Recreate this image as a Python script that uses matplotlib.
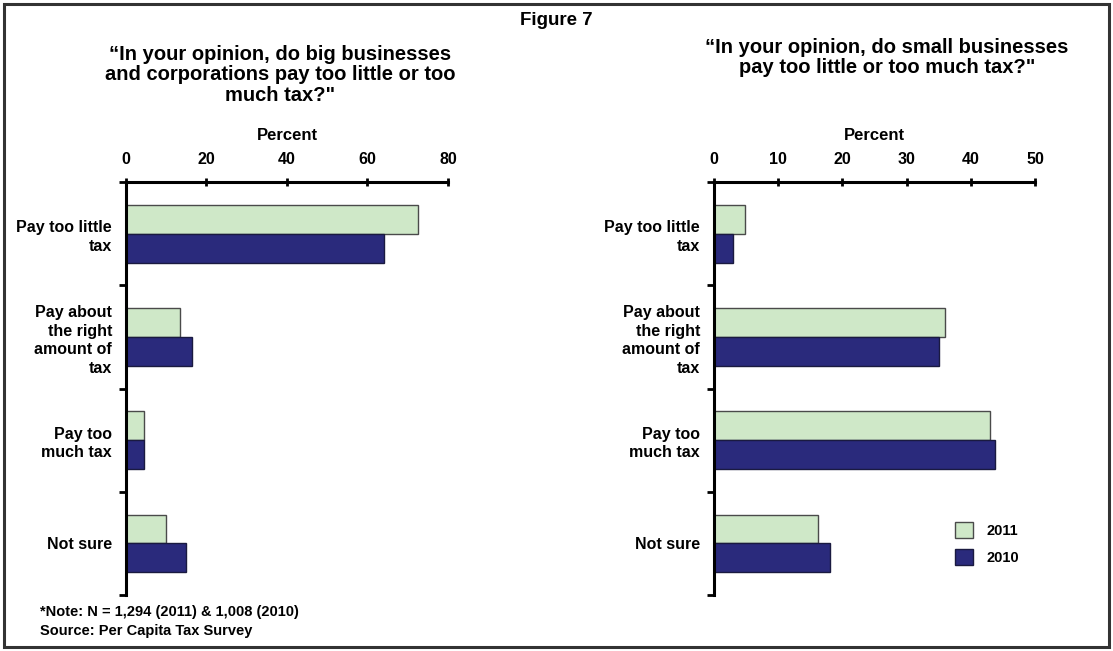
import matplotlib.pyplot as plt
from matplotlib.patches import Rectangle
import numpy as np

plt.rcParams['font.family'] = ['Liberation Sans', 'DejaVu Sans']
plt.rcParams['font.weight'] = 'bold'

categories = ['Pay too little\ntax', 'Pay about\nthe right\namount of\ntax',
              'Pay too\nmuch tax', 'Not sure']
big_2011 = [72.5, 13.5, 4.5, 10.0]
big_2010 = [64.0, 16.5, 4.5, 15.0]
small_2011 = [4.8, 36.0, 43.0, 16.2]
small_2010 = [3.0, 35.0, 43.8, 18.1]

light = '#cfe8c8'
navy = '#2a2a7c'


def panel(ax, v11, v10, xmax, step):
    y = np.arange(len(categories))
    h = 0.28
    ax.barh(y - h / 2, v11, height=h, color=light, edgecolor='#4a4a4a', linewidth=1)
    ax.barh(y + h / 2, v10, height=h, color=navy, edgecolor='#1a1a40', linewidth=1)
    ax.set_xlim(0, xmax)
    ax.set_ylim(len(categories) - 0.5, -0.5)
    ax.xaxis.tick_top()
    ax.xaxis.set_label_position('top')
    ax.set_xticks(np.arange(0, xmax + 1, step))
    ax.tick_params(axis='x', direction='inout', length=6, width=2, pad=8,
                   labelsize=11.5)
    ax.set_xlabel('Percent', fontsize=12, fontweight='bold', labelpad=9)
    ax.set_yticks(y)
    ax.set_yticklabels(categories, fontsize=11.5, linespacing=1.3)
    ax.set_yticks(np.arange(-0.5, len(categories)), minor=True)
    ax.tick_params(axis='y', which='major', length=0, pad=10)
    ax.tick_params(axis='y', which='minor', direction='out', length=5, width=2)
    for side in ('right', 'bottom'):
        ax.spines[side].set_visible(False)
    ax.spines['top'].set_linewidth(2.2)
    ax.spines['left'].set_linewidth(2.2)


fig = plt.figure(figsize=(11.13, 6.51), dpi=100)
fig.patches.append(Rectangle((0.004, 0.006), 0.992, 0.988, transform=fig.transFigure,
                             fill=False, edgecolor='#333333', linewidth=2.2))

ax1 = fig.add_axes([0.1132, 0.086, 0.2893, 0.634])
ax2 = fig.add_axes([0.6415, 0.086, 0.2884, 0.634])

panel(ax1, big_2011, big_2010, 80, 20)
panel(ax2, small_2011, small_2010, 50, 10)

fig.text(0.5, 0.969, 'Figure 7', ha='center', va='center', fontsize=13.5)
fig.text(0.252, 0.885, '\u201cIn your opinion, do big businesses\nand corporations pay too little or too\nmuch tax?"',
         ha='center', va='center', fontsize=14.5, linespacing=1.1)
fig.text(0.797, 0.912, '\u201cIn your opinion, do small businesses\npay too little or too much tax?"',
         ha='center', va='center', fontsize=14.5, linespacing=1.1)

fig.text(0.036, 0.06, '*Note: N = 1,294 (2011) & 1,008 (2010)', fontsize=10.5, va='center')
fig.text(0.036, 0.031, 'Source: Per Capita Tax Survey', fontsize=10.5, va='center')

handles = [Rectangle((0, 0), 1, 1, facecolor=light, edgecolor='#4a4a4a'),
           Rectangle((0, 0), 1, 1, facecolor=navy, edgecolor='#1a1a40')]
ax2.legend(handles, ['2011', '2010'], loc='lower right', frameon=False,
           fontsize=10.5, handlelength=1.2, handleheight=1.3, handletextpad=0.9,
           bbox_to_anchor=(0.99, 0.04), labelspacing=0.8)

fig.savefig('out.png', dpi=100)
